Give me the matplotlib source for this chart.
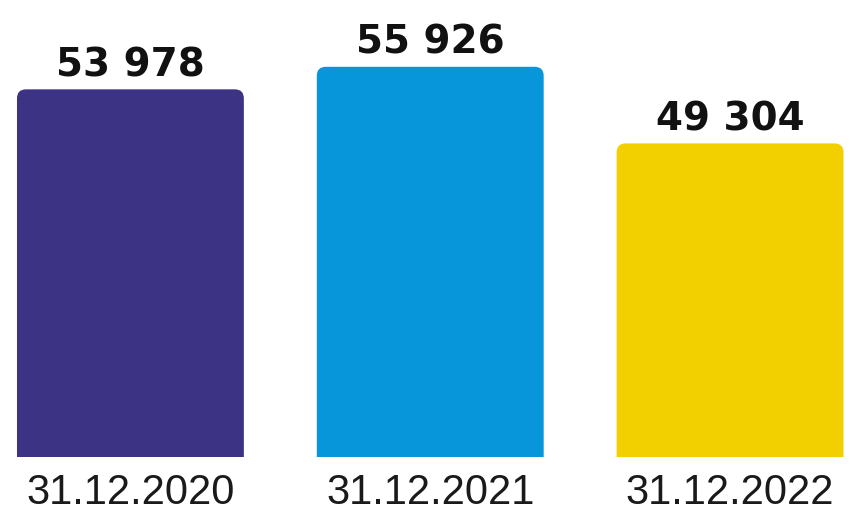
import matplotlib
matplotlib.use("Agg")
import matplotlib.pyplot as plt
from matplotlib.patches import FancyBboxPatch

categories = ["31.12.2020", "31.12.2021", "31.12.2022"]
values = [53978, 55926, 49304]
value_labels = ["53 978", "55 926", "49 304"]
colors = ["#3d3385", "#0796d9", "#f2d000"]

W, H, DPI = 8.5, 5.12, 100
fig = plt.figure(figsize=(W, H), dpi=DPI)
fig.patch.set_facecolor("white")
ax = fig.add_axes([0, 55 / 512, 1, 457 / 512])
ax.set_facecolor("white")

x = list(range(len(values)))
bar_w = 227 / 300
ax.set_xlim(-0.435, 2.4)
ylo, yhi = 22200, 61700
ax.set_ylim(ylo, yhi)

bars = ax.bar(x, values, width=bar_w, color=colors)
# convert to rounded-top bars
ax_px_w = W * DPI
ax_px_h = 457
xu_per_px = (2.4 + 0.435) / ax_px_w
yu_per_px = (yhi - ylo) / ax_px_h
for b, c in zip(bars, colors):
    b.set_visible(False)
    p = FancyBboxPatch((b.get_x(), b.get_y()), b.get_width(), b.get_height(),
                       boxstyle="round,pad=0,rounding_size=%f" % (9 * xu_per_px),
                       mutation_aspect=yu_per_px / xu_per_px,
                       facecolor=c, edgecolor="none")
    ax.add_patch(p)

for xi, v, lab in zip(x, values, value_labels):
    ax.annotate(lab, xy=(xi, v), xytext=(0, 9.5), textcoords="offset points",
                ha="center", va="baseline", fontsize=28, fontweight="bold",
                family="DejaVu Sans", color="#111111")

for xi, cat in zip(x, categories):
    ax.annotate(cat, xy=(xi, 0), xycoords=("data", "axes fraction"),
                xytext=(0, -33.5), textcoords="offset points",
                ha="center", va="baseline", fontsize=30,
                family="Liberation Sans", color="#1a1a1a")

ax.axis("off")
fig.savefig("out.png", dpi=DPI, facecolor="white")
